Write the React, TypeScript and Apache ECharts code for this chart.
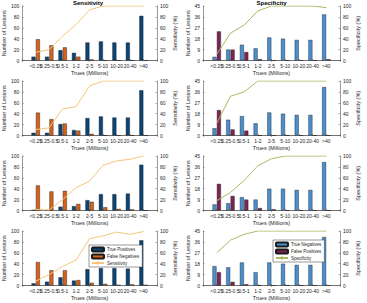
import React, { useEffect, useRef } from "react";
import * as echarts from "echarts";

const categories = ["<0.25", "0.25-0.5", "0.5-1", "1-2", "2-5", "5-10", "10-20", "20-40", ">40"];

const tpRow1 = [7, 7, 19, 14, 33, 35, 33, 33, 82];
const fnRow1 = [39, 28, 24, 7, 2, 0, 0, 0, 0];
const sensRow1 = [15, 20, 45, 66, 93, 100, 100, 100, 100];
const tnRow1 = [3, 9, 13, 10, 19, 18, 17, 17, 38];
const fpRow1 = [24, 9, 7, 1, 0, 0, 0, 0, 1];
const specRow1 = [11, 50, 65, 91, 100, 100, 100, 100, 97];

const tpRow2 = [5, 5, 21, 10, 32, 35, 33, 33, 83];
const fnRow2 = [42, 30, 22, 9, 3, 0, 0, 0, 0];
const sensRow2 = [11, 14, 49, 53, 91, 100, 100, 100, 100];
const tnRow2 = [6, 13, 16, 10, 19, 18, 17, 17, 40];
const fpRow2 = [21, 5, 4, 0, 0, 0, 0, 0, 0];
const specRow2 = [22, 72, 80, 100, 100, 100, 100, 100, 100];

const tpRow3 = [1, 0, 7, 8, 19, 30, 30, 31, 84];
const fnRow3 = [46, 35, 36, 12, 16, 6, 3, 2, 0];
const sensRow3 = [2, 1, 20, 42, 54, 83, 91, 94, 100];
const tnRow3 = [5, 6, 11, 9, 18, 18, 17, 17, 40];
const fpRow3 = [22, 12, 9, 2, 1, 0, 0, 0, 0];
const specRow3 = [18, 33, 55, 82, 95, 100, 100, 100, 100];

const tpRow4 = [4, 7, 15, 9, 30, 32, 32, 31, 83];
const fnRow4 = [43, 28, 28, 10, 5, 3, 1, 2, 1];
const sensRow4 = [8, 20, 35, 47, 86, 91, 98, 94, 99];
const tnRow4 = [16, 15, 19, 11, 19, 18, 17, 17, 40];
const fpRow4 = [11, 3, 1, 0, 0, 0, 0, 0, 0];
const specRow4 = [60, 83, 94, 100, 100, 100, 100, 100, 100];

const sensRows = [
  [tpRow1, fnRow1, sensRow1],
  [tpRow2, fnRow2, sensRow2],
  [tpRow3, fnRow3, sensRow3],
  [tpRow4, fnRow4, sensRow4],
];
const specRows = [
  [tnRow1, fpRow1, specRow1],
  [tnRow2, fpRow2, specRow2],
  [tnRow3, fpRow3, specRow3],
  [tnRow4, fpRow4, specRow4],
];

const FONT = "'Liberation Sans', Arial, sans-serif";
const TXT = "#262626";
const AX = "#555";
const C_TP = "#0b4576";
const C_FN = "#d4621c";
const C_TN = "#4a8fcd";
const C_FP = "#7d2552";
const C_SENS = "#f4c77a";
const C_SPEC = "#aab862";

const pad = (a: any[]) => [null, ...a, null];

export default function App() {
  const ref = useRef<HTMLDivElement>(null);
  useEffect(() => {
    if (!ref.current) return;
    const chart = echarts.init(ref.current, undefined, { renderer: "svg" });
    const grid: any[] = [];
    const xAxis: any[] = [];
    const yAxis: any[] = [];
    const series: any[] = [];
    const cats = ["", ...categories, ""];
    for (let r = 0; r < 4; r++) {
      for (let c = 0; c < 2; c++) {
        const g = r * 2 + c;
        grid.push({
          left: c === 0 ? 18.5 : 203,
          top: 6 + 75 * r,
          width: c === 0 ? 138.5 : 137,
          height: 54.5,
        });
        xAxis.push({
          type: "category",
          gridIndex: g,
          data: cats,
          boundaryGap: false,
          position: "bottom",
          axisLine: { show: true, lineStyle: { color: AX, width: 0.6 } },
          axisTick: { show: true, inside: true, length: 1.5, lineStyle: { color: AX, width: 0.5 } },
          axisLabel: { interval: 0, fontSize: 5, margin: 3, color: TXT, fontFamily: FONT },
          splitLine: { show: false },
          name: "Trues (Millions)",
          nameLocation: "middle",
          nameGap: 9,
          nameTextStyle: { fontSize: 5.5, color: TXT, fontFamily: FONT },
        });
        xAxis.push({
          type: "category",
          gridIndex: g,
          data: cats,
          boundaryGap: false,
          position: "top",
          axisLine: { show: true, lineStyle: { color: AX, width: 0.6 } },
          axisTick: { show: true, inside: true, length: 1.5, lineStyle: { color: AX, width: 0.5 } },
          axisLabel: { show: false },
          splitLine: { show: false },
        });
        const isSens = c === 0;
        yAxis.push({
          type: "value",
          gridIndex: g,
          min: 0,
          max: isSens ? 100 : 45,
          interval: isSens ? 20 : 9,
          position: "left",
          axisLine: { show: true, lineStyle: { color: AX, width: 0.6 } },
          axisTick: { show: true, inside: true, length: 1.5, lineStyle: { color: AX, width: 0.5 } },
          axisLabel: { fontSize: 5, margin: 3, color: TXT, fontFamily: FONT },
          splitLine: { show: false },
          name: "Number of Lesions",
          nameLocation: "middle",
          nameGap: 11,
          nameRotate: 90,
          nameTextStyle: { fontSize: 5.5, color: TXT, fontFamily: FONT },
        });
        yAxis.push({
          type: "value",
          gridIndex: g,
          min: 0,
          max: 100,
          interval: 20,
          position: "right",
          axisLine: { show: true, lineStyle: { color: AX, width: 0.6 } },
          axisTick: { show: true, inside: true, length: 1.5, lineStyle: { color: AX, width: 0.5 } },
          axisLabel: { fontSize: 5, margin: 3, color: TXT, fontFamily: FONT },
          splitLine: { show: false },
          name: isSens ? "Sensitivity (%)" : "Specificity (%)",
          nameLocation: "middle",
          nameGap: 13,
          nameRotate: 90,
          nameTextStyle: { fontSize: 5.5, color: TXT, fontFamily: FONT },
        });
        const rowData = isSens ? sensRows[r] : specRows[r];
        const names = isSens
          ? ["True Positives", "False Negatives", "Sensitivity"]
          : ["True Negatives", "False Positives", "Specificity"];
        const colors = isSens ? [C_TP, C_FN, C_SENS] : [C_TN, C_FP, C_SPEC];
        for (let k = 0; k < 2; k++) {
          series.push({
            type: "bar",
            name: names[k],
            xAxisIndex: 2 * g,
            yAxisIndex: 2 * g,
            data: pad(rowData[k]),
            barWidth: 4,
            barGap: "10%",
            itemStyle: { color: colors[k], borderColor: "#1a1a1a", borderWidth: 0.4 },
          });
        }
        series.push({
          type: "line",
          name: names[2],
          xAxisIndex: 2 * g,
          yAxisIndex: 2 * g + 1,
          data: pad(rowData[2]),
          symbol: "none",
          lineStyle: { color: colors[2], width: 1 },
          itemStyle: { color: colors[2] },
        });
      }
    }
    const legendCommon = {
      orient: "vertical",
      itemWidth: 12,
      itemHeight: 4,
      itemGap: 1,
      padding: [1.5, 3, 1.5, 2],
      backgroundColor: "#fff",
      borderColor: "#333",
      borderWidth: 0.5,
      borderRadius: 0,
      textStyle: { fontSize: 4.5, color: TXT, fontFamily: FONT, padding: [0, 0, 0, -2] },
      selectedMode: false,
    };
    chart.setOption({
      animation: false,
      grid,
      xAxis,
      yAxis,
      series,
      legend: [
        { ...legendCommon, left: 89, top: 245, data: ["True Positives", "False Negatives", "Sensitivity"] },
        { ...legendCommon, left: 273, top: 240, data: ["True Negatives", "False Positives", "Specificity"] },
      ],
      graphic: [
        {
          type: "text",
          x: 88,
          y: 3,
          style: { text: "Sensitivity", fontSize: 6, fontWeight: "bold", fill: "#000", font: `bold 6px ${FONT}`, textAlign: "center", textVerticalAlign: "middle" },
        },
        {
          type: "text",
          x: 271.5,
          y: 3,
          style: { text: "Specificity", fontSize: 6, fontWeight: "bold", fill: "#000", font: `bold 6px ${FONT}`, textAlign: "center", textVerticalAlign: "middle" },
        },
      ],
    });
    return () => chart.dispose();
  }, []);
  return <div ref={ref} style={{ width: 367, height: 303, position: "absolute", left: 0, top: 0 }} />;
}
